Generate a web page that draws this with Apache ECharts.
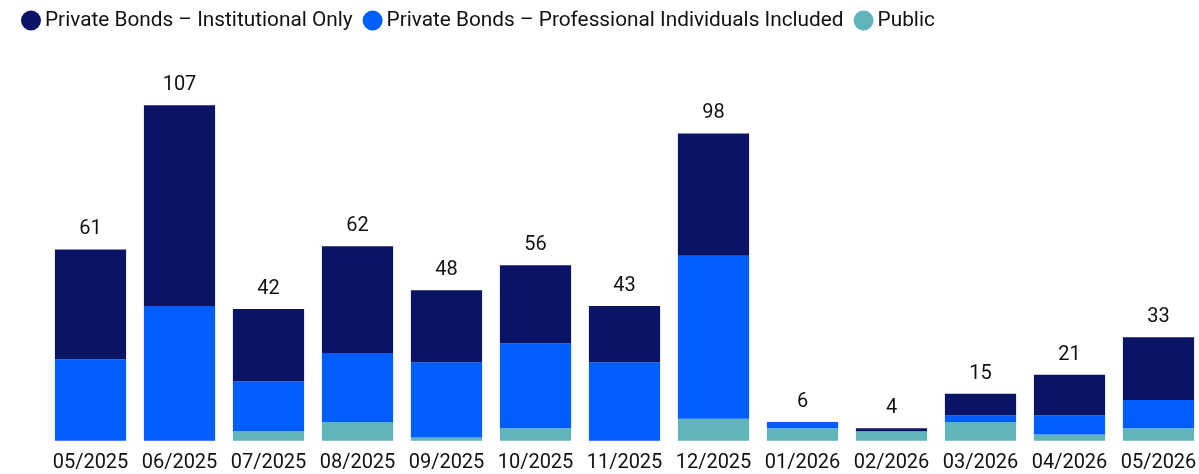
<!DOCTYPE html>
<html>
<head>
<meta charset="utf-8">
<script src="https://cdn.jsdelivr.net/npm/echarts@6/dist/echarts.min.js"></script>
<style>
html,body{margin:0;padding:0;background:#fff;}
#chart{width:1199px;height:474px;}
</style>
</head>
<body>
<div id="chart"></div>
<script>
const categories = ['05/2025','06/2025','07/2025','08/2025','09/2025','10/2025','11/2025','12/2025','01/2026','02/2026','03/2026','04/2026','05/2026'];
const publicVals = [0, 0, 3, 6, 1, 4, 0, 7, 4, 3, 6, 2, 4];
const professionalVals = [26, 43, 16, 22, 24, 27, 25, 52, 2, 0, 2, 6, 9];
const institutionalVals = [35, 64, 23, 34, 23, 25, 18, 39, 0, 1, 7, 13, 20];
const totals = categories.map((c, i) => publicVals[i] + professionalVals[i] + institutionalVals[i]);

const FONT = 'Roboto';
const chart = echarts.init(document.getElementById('chart'));
chart.setOption({
  animation: false,
  textStyle: { fontFamily: FONT },
  legend: {
    left: 21, top: 10, padding: 0,
    icon: 'circle', itemWidth: 20, itemHeight: 20, itemGap: 10,
    textStyle: { fontFamily: FONT, fontSize: 20.8, color: '#111', padding: [0,0,0,-1] },
    data: ['Private Bonds – Institutional Only', 'Private Bonds – Professional Individuals Included', 'Public']
  },
  grid: { left: 46, width: 1157, top: 64.5, bottom: 33.3, containLabel: false, outerBoundsMode: 'none' },
  xAxis: {
    type: 'category', data: categories,
    axisLine: { show: false }, axisTick: { show: false },
    axisLabel: { fontFamily: FONT, fontSize: 20, color: '#111', margin: 12, interval: 0 }
  },
  yAxis: { type: 'value', min: 0, max: 120, show: false, splitLine: { show: false } },
  series: [
    { name: 'Public', type: 'bar', stack: 's', data: publicVals, barCategoryGap: '20%', itemStyle: { color: '#5fb5bb' } },
    { name: 'Private Bonds – Professional Individuals Included', type: 'bar', stack: 's', data: professionalVals, itemStyle: { color: '#005eff' } },
    { name: 'Private Bonds – Institutional Only', type: 'bar', stack: 's', data: institutionalVals, itemStyle: { color: '#0b1464' } },
    { name: 'total', type: 'bar', stack: 's', data: totals.map(() => 0), silent: true,
      label: { show: true, position: 'top', distance: 10, fontFamily: FONT, fontSize: 20, color: '#111',
        formatter: p => totals[p.dataIndex] } }
  ]
});
</script>
</body>
</html>
